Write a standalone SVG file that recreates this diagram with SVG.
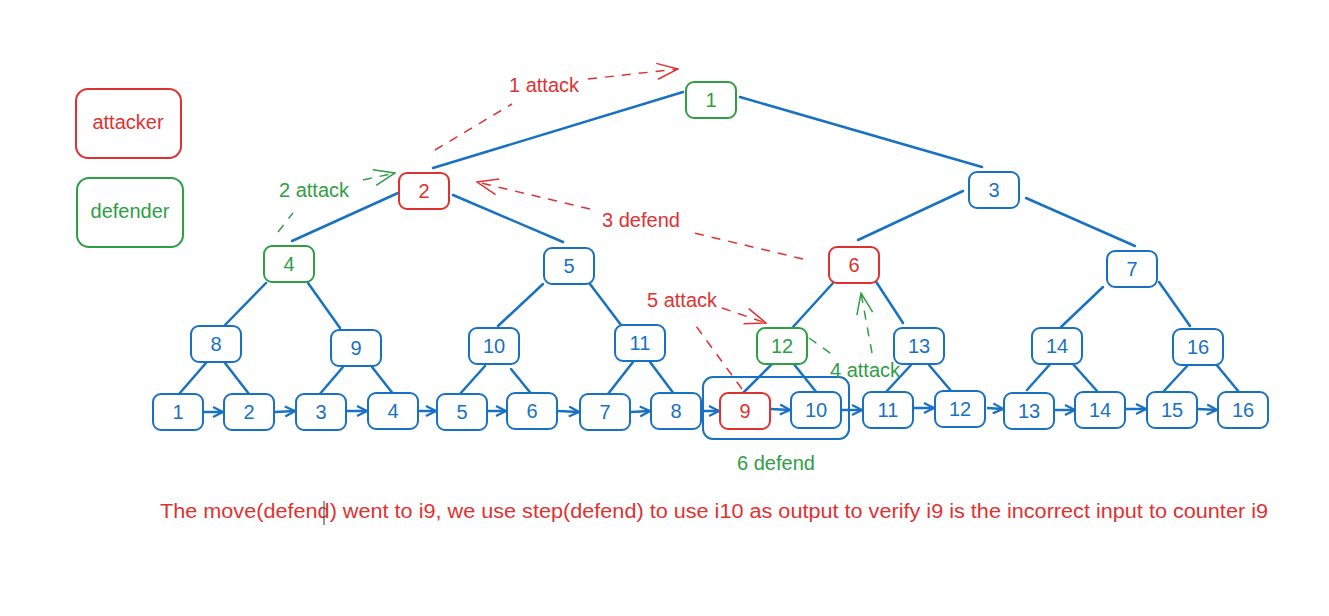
<svg xmlns="http://www.w3.org/2000/svg" width="1329" height="616" viewBox="0 0 1329 616">
<style>
text{font-family:"Liberation Sans",Arial,sans-serif;font-size:20px;text-anchor:middle;dominant-baseline:central}
.b rect{fill:#fff;stroke:#1971c2;stroke-width:2}
.b text{fill:#1971c2}
.r rect{fill:#fff;stroke:#e03131;stroke-width:2}
.r text{fill:#e03131}
.g rect{fill:#fff;stroke:#2f9e44;stroke-width:2}
.g text{fill:#2f9e44}
.e line{stroke:#1971c2;stroke-width:2.5;stroke-linecap:round}
.a line{stroke:#1971c2;stroke-width:2.5;marker-end:url(#ab)}
.dr{stroke:#e03131;stroke-width:1.5;stroke-dasharray:9 8;fill:none}
.dg{stroke:#2f9e44;stroke-width:1.5;stroke-dasharray:9 8;fill:none}
</style>
<defs>
<marker id="ab" viewBox="0 0 12 12" refX="11" refY="6" markerWidth="12" markerHeight="12" markerUnits="userSpaceOnUse" orient="auto"><path d="M1,1 L11,6 L1,11" fill="none" stroke="#1971c2" stroke-width="2.2"/></marker>
<marker id="ar" viewBox="0 0 24 20" refX="23" refY="10" markerWidth="24" markerHeight="20" markerUnits="userSpaceOnUse" orient="auto"><path d="M2,2 L23,10 L2,18" fill="none" stroke="#e03131" stroke-width="1.5"/></marker>
<marker id="ag" viewBox="0 0 24 20" refX="23" refY="10" markerWidth="24" markerHeight="20" markerUnits="userSpaceOnUse" orient="auto"><path d="M2,2 L23,10 L2,18" fill="none" stroke="#2f9e44" stroke-width="1.5"/></marker>
</defs>
<rect width="1329" height="616" fill="#fff"/>

<g id="legend-attacker" class="r"><rect x="76" y="89" width="105" height="69" rx="12"/><text x="128" y="122">attacker</text></g>
<g id="legend-defender" class="g"><rect x="77" y="178" width="106" height="69" rx="12"/><text x="130" y="211">defender</text></g>

<g id="connectors">
<g class="e">
<line x1="683" y1="92" x2="433" y2="168"/>
<line x1="740" y1="97" x2="982" y2="167"/>
<line x1="398" y1="193" x2="292" y2="241"/>
<line x1="453" y1="195" x2="563" y2="242"/>
<line x1="963" y1="191" x2="858" y2="240"/>
<line x1="1026" y1="198" x2="1135" y2="246"/>
<line x1="266" y1="283" x2="225" y2="325"/>
<line x1="308" y1="283" x2="340" y2="328"/>
<line x1="543" y1="284" x2="498" y2="326"/>
<line x1="590" y1="284" x2="621" y2="325"/>
<line x1="833" y1="283" x2="793" y2="327"/>
<line x1="873" y1="277" x2="903" y2="323"/>
<line x1="1103" y1="287" x2="1061" y2="327"/>
<line x1="1159" y1="282" x2="1190" y2="326"/>
<line x1="206" y1="363" x2="179" y2="394"/>
<line x1="225" y1="363" x2="249" y2="394"/>
<line x1="343" y1="367" x2="319" y2="395"/>
<line x1="372" y1="367" x2="394" y2="395"/>
<line x1="485" y1="366" x2="459" y2="395"/>
<line x1="511" y1="369" x2="533" y2="396"/>
<line x1="633" y1="362" x2="608" y2="394"/>
<line x1="650" y1="362" x2="674" y2="394"/>
<line x1="772" y1="364" x2="743" y2="393"/>
<line x1="793" y1="363" x2="817" y2="393"/>
<line x1="911" y1="365" x2="886" y2="392"/>
<line x1="929" y1="365" x2="952" y2="392"/>
<line x1="1052" y1="362" x2="1027" y2="390"/>
<line x1="1072" y1="363" x2="1097" y2="391"/>
<line x1="1189" y1="364" x2="1163" y2="392"/>
<line x1="1215" y1="363" x2="1239" y2="392"/>
</g>
<g class="a">
<line x1="204" y1="412" x2="223" y2="412"/>
<line x1="275" y1="412" x2="295" y2="411"/>
<line x1="347" y1="411" x2="367" y2="411"/>
<line x1="419" y1="411" x2="436" y2="411"/>
<line x1="488" y1="411" x2="506" y2="411"/>
<line x1="558" y1="411" x2="579" y2="412"/>
<line x1="631" y1="412" x2="650" y2="411"/>
<line x1="702" y1="411" x2="719" y2="411"/>
<line x1="771" y1="409" x2="790" y2="410"/>
<line x1="842" y1="410" x2="862" y2="410"/>
<line x1="914" y1="408" x2="934" y2="408"/>
<line x1="987" y1="408" x2="1003" y2="409"/>
<line x1="1054" y1="410" x2="1075" y2="410"/>
<line x1="1126" y1="409" x2="1146" y2="409"/>
<line x1="1198" y1="409" x2="1217" y2="410"/>
</g>
<rect x="703" y="377" width="146" height="62" rx="10" fill="none" stroke="#1971c2" stroke-width="2"/>
<path class="dr" d="M435,150 L512,104"/>
<path class="dr" d="M588,79 L678,69" marker-end="url(#ar)"/>
<path class="dr" d="M803,259 L690,232"/>
<path class="dr" d="M590,209 L477,182" marker-end="url(#ar)"/>
<path class="dr" d="M722,308 L766,323" marker-end="url(#ar)"/>
<path class="dr" d="M742,389 L696,326"/>
<path class="dg" d="M278,232 L293,213"/>
<path class="dg" d="M363,180 L395,173" marker-end="url(#ag)"/>
<path class="dg" d="M809,338 L833,355"/>
<path class="dg" d="M872,353 L861,293" marker-end="url(#ag)"/>
</g>

<g id="n1" class="g"><rect x="686" y="82" width="50" height="36" rx="8"/><text x="711" y="100">1</text></g>
<g id="n2" class="r"><rect x="399" y="173" width="50" height="36" rx="8"/><text x="424" y="191">2</text></g>
<g id="n3" class="b"><rect x="969" y="172" width="50" height="36" rx="8"/><text x="994" y="190">3</text></g>
<g id="n4" class="g"><rect x="264" y="246" width="50" height="36" rx="8"/><text x="289" y="264">4</text></g>
<g id="n5" class="b"><rect x="544" y="248" width="50" height="36" rx="8"/><text x="569" y="266">5</text></g>
<g id="n6" class="r"><rect x="829" y="247" width="50" height="36" rx="8"/><text x="854" y="265">6</text></g>
<g id="n7" class="b"><rect x="1107" y="251" width="50" height="36" rx="8"/><text x="1132" y="269">7</text></g>
<g id="n8" class="b"><rect x="191" y="326" width="50" height="36" rx="8"/><text x="216" y="344">8</text></g>
<g id="n9" class="b"><rect x="331" y="330" width="50" height="36" rx="8"/><text x="356" y="348">9</text></g>
<g id="n10" class="b"><rect x="469" y="328" width="50" height="36" rx="8"/><text x="494" y="346">10</text></g>
<g id="n11" class="b"><rect x="615" y="325" width="50" height="36" rx="8"/><text x="640" y="343">11</text></g>
<g id="n12" class="g"><rect x="757" y="328" width="50" height="36" rx="8"/><text x="782" y="346">12</text></g>
<g id="n13" class="b"><rect x="894" y="328" width="50" height="36" rx="8"/><text x="919" y="346">13</text></g>
<g id="n14" class="b"><rect x="1032" y="328" width="50" height="36" rx="8"/><text x="1057" y="346">14</text></g>
<g id="n16" class="b"><rect x="1173" y="329" width="50" height="36" rx="8"/><text x="1198" y="347">16</text></g>

<g id="i1" class="b"><rect x="153" y="394" width="50" height="36" rx="8"/><text x="178" y="412">1</text></g>
<g id="i2" class="b"><rect x="224" y="394" width="50" height="36" rx="8"/><text x="249" y="412">2</text></g>
<g id="i3" class="b"><rect x="296" y="394" width="50" height="36" rx="8"/><text x="321" y="412">3</text></g>
<g id="i4" class="b"><rect x="368" y="393" width="50" height="36" rx="8"/><text x="393" y="411">4</text></g>
<g id="i5" class="b"><rect x="437" y="394" width="50" height="36" rx="8"/><text x="462" y="412">5</text></g>
<g id="i6" class="b"><rect x="507" y="393" width="50" height="36" rx="8"/><text x="532" y="411">6</text></g>
<g id="i7" class="b"><rect x="580" y="394" width="50" height="36" rx="8"/><text x="605" y="412">7</text></g>
<g id="i8" class="b"><rect x="651" y="393" width="50" height="36" rx="8"/><text x="676" y="411">8</text></g>
<g id="i9" class="r"><rect x="720" y="393" width="50" height="36" rx="8"/><text x="745" y="411">9</text></g>
<g id="i10" class="b"><rect x="791" y="392" width="50" height="36" rx="8"/><text x="816" y="410">10</text></g>
<g id="i11" class="b"><rect x="863" y="392" width="50" height="36" rx="8"/><text x="888" y="410">11</text></g>
<g id="i12" class="b"><rect x="935" y="391" width="50" height="36" rx="8"/><text x="960" y="409">12</text></g>
<g id="i13" class="b"><rect x="1004" y="393" width="50" height="36" rx="8"/><text x="1029" y="411">13</text></g>
<g id="i14" class="b"><rect x="1075" y="392" width="50" height="36" rx="8"/><text x="1100" y="410">14</text></g>
<g id="i15" class="b"><rect x="1147" y="392" width="50" height="36" rx="8"/><text x="1172" y="410">15</text></g>
<g id="i16" class="b"><rect x="1218" y="392" width="50" height="36" rx="8"/><text x="1243" y="410">16</text></g>

<g id="labels">
<text x="544" y="85" fill="#e03131">1 attack</text>
<text x="314" y="190" fill="#2f9e44">2 attack</text>
<text x="641" y="220" fill="#e03131">3 defend</text>
<text x="682" y="300" fill="#e03131">5 attack</text>
<text x="865" y="370" fill="#2f9e44">4 attack</text>
<text x="776" y="463" fill="#2f9e44">6 defend</text>
<text x="714" y="511" fill="#e03131" textLength="1108" lengthAdjust="spacingAndGlyphs">The move(defend) went to i9, we use step(defend) to use i10 as output to verify i9 is the incorrect input to counter i9</text>
<line x1="324" y1="501" x2="324" y2="525" stroke="#333" stroke-width="1"/>
</g>
</svg>
